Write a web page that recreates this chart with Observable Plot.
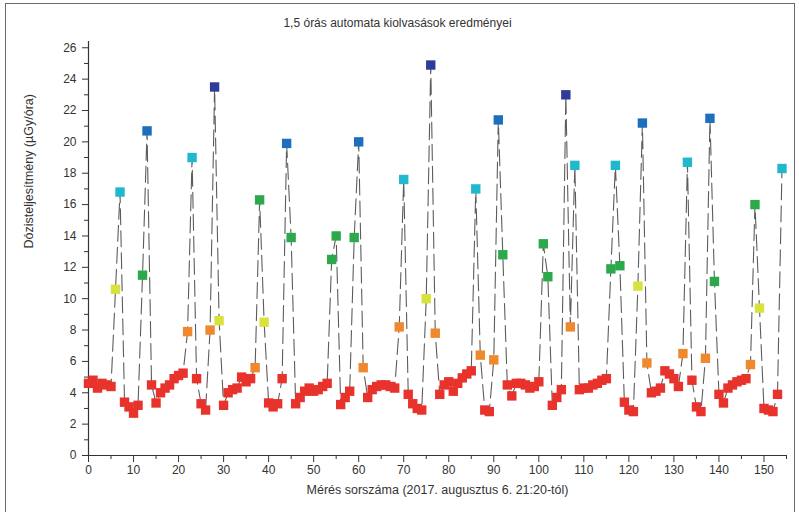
<!DOCTYPE html>
<html>
<head>
<meta charset="utf-8">
<script src="https://cdn.jsdelivr.net/npm/d3@7"></script>
<script src="https://cdn.jsdelivr.net/npm/@observablehq/plot@0.6"></script>
<style>
  html, body { margin: 0; padding: 0; background: #fff; }
  #wrap { position: relative; width: 799px; height: 512px; overflow: hidden; }
  #border { position: absolute; left: 5px; top: 3px; width: 790px; height: 520px; border: 1.5px solid #6a6a6a; box-sizing: border-box; pointer-events: none; }
  #chart { position: absolute; left: 0; top: 0; }
</style>
</head>
<body>
<div id="wrap">
  <div id="chart"></div>
  <div id="border"></div>
</div>
<script>
// Measurement values (µGy/óra), measurement numbers start at 0
const values = [
  4.6, 4.8, 4.3, 4.6, 4.5, 4.4, 10.6, 16.8, 3.4, 3.1,
  2.7, 3.2, 11.5, 20.7, 4.5, 3.35, 4.0, 4.3, 4.5, 4.9,
  5.1, 5.25, 7.9, 19.0, 4.9, 3.3, 2.9, 8.0, 23.5, 8.6,
  3.2, 4.0, 4.2, 4.3, 5.0, 4.7, 4.9, 5.6, 16.3, 8.5,
  3.35, 3.1, 3.3, 4.9, 19.9, 13.9, 3.3, 3.7, 4.1, 4.3,
  4.1, 4.2, 4.4, 4.6, 12.5, 14.0, 3.25, 3.7, 4.1, 13.9,
  20.0, 5.6, 3.7, 4.2, 4.4, 4.5, 4.5, 4.4, 4.3, 8.2,
  17.6, 3.9, 3.3, 3.0, 2.9, 10.0, 24.9, 7.8, 3.9, 4.5,
  4.7, 4.1, 4.6, 4.95, 5.2, 5.4, 17.0, 6.4, 2.9, 2.8,
  6.1, 21.4, 12.8, 4.5, 3.8, 4.6, 4.6, 4.5, 4.3, 4.4,
  4.7, 13.5, 11.4, 3.2, 3.7, 4.2, 23.0, 8.2, 18.5, 4.2,
  4.3, 4.3, 4.5, 4.6, 4.8, 4.9, 11.9, 18.5, 12.1, 3.4,
  2.9, 2.8, 10.8, 21.2, 5.9, 4.0, 4.1, 4.3, 5.4, 5.2,
  4.9, 4.4, 6.5, 18.7, 4.8, 3.1, 2.8, 6.2, 21.5, 11.1,
  3.9, 3.35, 4.3, 4.5, 4.7, 4.8, 4.9, 5.8, 16.0, 9.4,
  3.0, 2.9, 2.8, 3.9, 18.3
];
const colorBreaks = [5.5, 8.35, 11.0, 16.5, 19.5, 22.5];
const colorRange = ["#e8322c", "#f0882e", "#d8e23c", "#2ca94a", "#1fb8cc", "#1d6fbe", "#2f3b98"];
const xTicks = d3.range(0, 151, 10);
const xMinor = d3.range(5, 156, 10);
const yTicks = d3.range(0, 27, 2);
const yMinor = d3.range(1, 27, 2);
const title = "1,5 órás automata kiolvasások eredményei";
const xLabel = "Mérés sorszáma (2017. augusztus 6. 21:20-tól)";
const yLabel = "Dózisteljesítmény (µGy/óra)";

const data = values.map((v, i) => ({n: i, v}));
const font = "'Liberation Sans', Arial, sans-serif";

const chart = Plot.plot({
  width: 799,
  height: 512,
  marginLeft: 88,
  marginRight: 13,
  marginTop: 41,
  marginBottom: 57,
  style: {fontFamily: font, fontSize: "12px", color: "#333", background: "transparent"},
  x: {domain: [0, 155]},
  y: {domain: [0, 26.4]},
  color: {type: "threshold", domain: colorBreaks, range: colorRange},
  marks: [
    Plot.axisX({ticks: xTicks, tickSize: 7, tickPadding: 3, label: null, fontSize: 12, stroke: "#333"}),
    Plot.axisX({ticks: xMinor, tickSize: 4, text: null, label: null, stroke: "#333"}),
    Plot.axisY({ticks: yTicks, tickSize: 6, tickPadding: 6, label: null, fontSize: 12, stroke: "#333"}),
    Plot.axisY({ticks: yMinor, tickSize: 4, text: null, label: null, stroke: "#333"}),
    Plot.ruleY([0], {stroke: "#333", strokeWidth: 1.2}),
    Plot.ruleX([0], {stroke: "#333", strokeWidth: 1.2}),
    Plot.line(data, {x: "n", y: "v", stroke: "#333", strokeWidth: 1.1, strokeOpacity: 0.8, strokeDasharray: "16,6"}),
    Plot.dot(data, {x: "n", y: "v", symbol: "square", r: 5.3, fill: "v", stroke: "none"}),
    Plot.text([title], {frameAnchor: "top", dx: -40, dy: -23, fontSize: 12, fill: "#333", text: d => d}),
    Plot.text([xLabel], {frameAnchor: "bottom", dy: 38, fontSize: 12.5, fill: "#333", text: d => d}),
    Plot.text([yLabel], {frameAnchor: "left", dx: -60, rotate: -90, fontSize: 12.5, fill: "#333", text: d => d})
  ]
});
document.getElementById("chart").appendChild(chart);
</script>
</body>
</html>
